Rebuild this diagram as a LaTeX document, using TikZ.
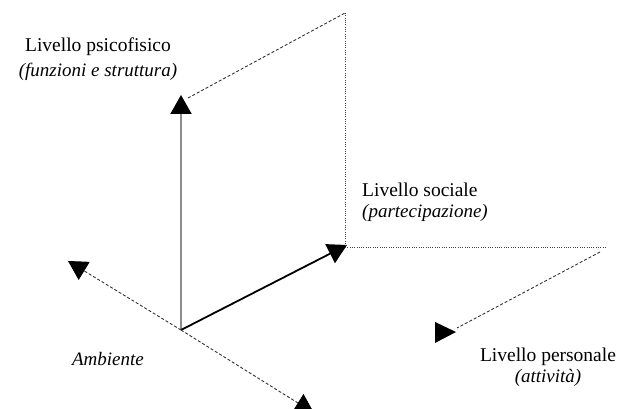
\documentclass[tikz,border=0pt]{standalone}
\usepackage{fontspec}
\setmainfont{Liberation Serif}
\usetikzlibrary{arrows.meta}
\begin{document}
\begin{tikzpicture}[x=1pt,y=-1pt,
  lbl/.style={font=\fontsize{19.5}{22}\selectfont, inner sep=0pt, align=center},
  ilbl/.style={font=\fontsize{19}{22}\selectfont\itshape, inner sep=0pt},
  tip/.style={-{Triangle[length=19pt,width=21pt,color=black]}},
  dashline/.style={draw=black!80, line width=0.9pt, dash pattern=on 3pt off 2pt},
  dotline/.style={draw=black!75, line width=1pt, dash pattern=on 1pt off 1.3pt},
  tri/.style={fill=black}]
\useasboundingbox (0,0) rectangle (629,409);
% points
\coordinate (O) at (181,330);
\coordinate (up) at (181,95);
\coordinate (upd) at (188,98);
\coordinate (tr) at (345,13);
\coordinate (soc) at (347,245);
\coordinate (socb) at (345,247);
\coordinate (rr) at (607,247);
\coordinate (pa) at (600,252);
\coordinate (pb) at (457,328);
\coordinate (amb) at (68,261);
\coordinate (bot) at (314,413);
% axes
\draw[tip, draw=black!45, line width=2pt] (O) -- (up);
\draw[tip, line width=1.8pt] (O) -- (soc);
\draw[tip, dashline] (O) -- (amb);
\draw[tip, dashline] (O) -- (bot);
% guide lines
\draw[dashline] (upd) -- (tr);
\draw[dotline] (tr) -- (socb);
\draw[dotline] (socb) -- (rr);
\draw[dashline] (pa) -- (pb);
\fill[tri] (435,322) -- (456,332) -- (435,343) -- cycle;
% labels
\node[lbl] (psi) at (98,47) {Livello psicofisico};
\node[ilbl] (psii) at (98,72) {(funzioni e struttura)};
\node[lbl, anchor=west] (socl) at (362,190) {Livello sociale};
\node[ilbl, anchor=west] (soci) at (362,213) {(partecipazione)};
\node[lbl] (pers) at (548,357) {Livello personale};
\node[ilbl] (persi) at (548,378) {(attività)};
\node[ilbl] (ambl) at (108,359) {Ambiente};
\end{tikzpicture}
\end{document}
